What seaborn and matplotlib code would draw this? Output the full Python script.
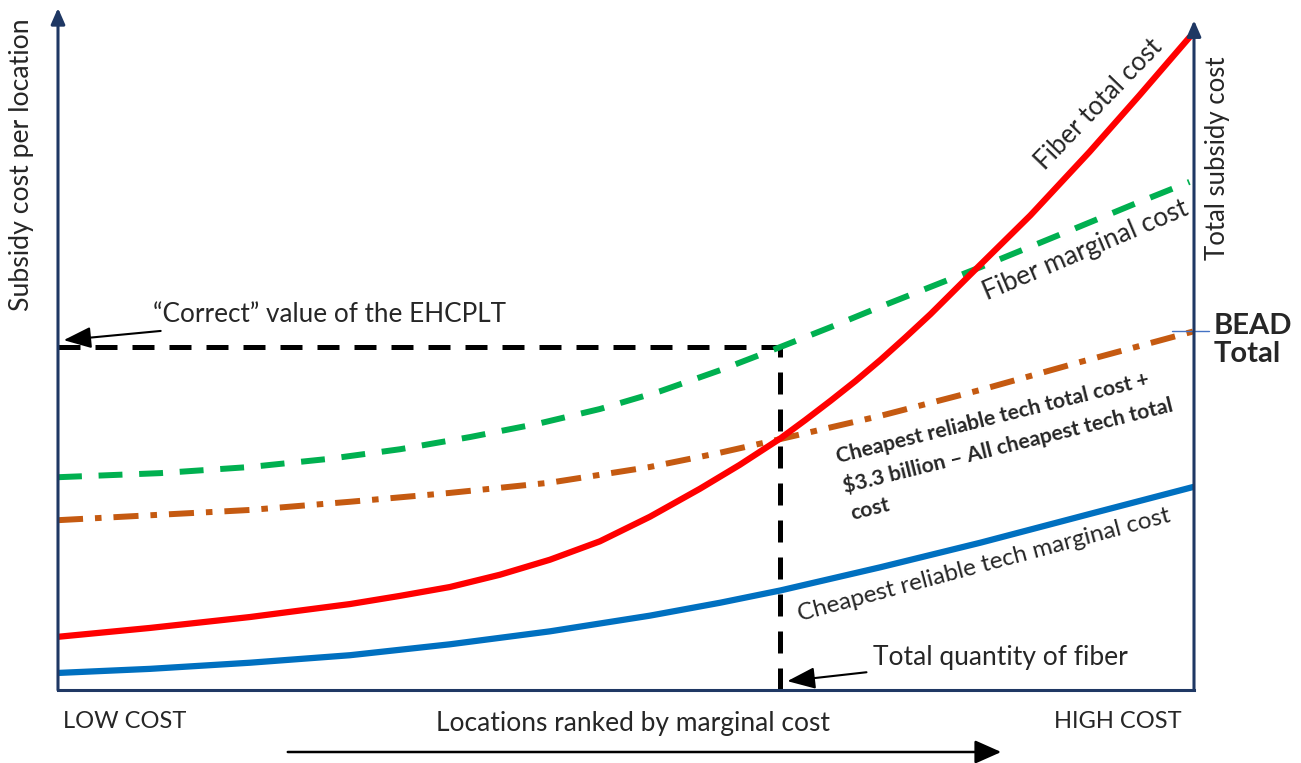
import numpy as np
import pandas as pd
import matplotlib
matplotlib.use("Agg")
import matplotlib.pyplot as plt
import seaborn as sns

# values (x = location rank 0-100, y = cost 0-100)
fiber_total_x = [0, 8.1, 16.9, 25.7, 30.1, 34.5, 38.9, 43.3, 47.7, 52.1, 56.5, 60.0,
                 63.6, 65.8, 68.0, 70.2, 72.4, 74.6, 76.8, 80.3, 85.6, 90.8, 95.2, 99.6]
fiber_total = [7.8, 9.1, 10.7, 12.6, 13.8, 15.1, 16.9, 19.1, 21.8, 25.4, 29.5, 33.0,
               36.9, 39.6, 42.4, 45.3, 48.4, 51.7, 55.1, 60.9, 69.6, 78.9, 87.2, 95.7]

fiber_marginal_x = [0, 9.0, 16.9, 23.9, 30.1, 36.3, 42.4, 47.7, 53.0, 58.3, 63.6,
                    68.0, 72.4, 76.8, 81.2, 85.6, 90.0, 94.8, 99.6]
fiber_marginal = [31.2, 31.8, 32.7, 33.9, 35.3, 37.1, 39.1, 41.2, 43.8, 46.9, 50.3,
                  53.2, 56.2, 59.1, 62.0, 65.0, 68.0, 71.3, 74.5]

cheap_total_x = [0, 9.0, 16.9, 25.7, 34.5, 43.3, 52.1, 58.3, 63.6, 72.4, 81.2, 90.0, 100]
cheap_total = [24.9, 25.7, 26.4, 27.6, 28.9, 30.4, 32.7, 34.8, 36.8, 40.2, 44.0, 48.1, 52.6]

cheap_marginal_x = [0, 8.1, 16.9, 25.7, 34.5, 43.3, 52.1, 58.3, 63.6, 72.4, 81.2, 90.8, 100]
cheap_marginal = [2.5, 3.1, 4.0, 5.1, 6.7, 8.6, 10.9, 12.8, 14.6, 18.0, 21.6, 25.8, 29.8]

fiber_quantity = 63.6   # "Total quantity of fiber"
ehcplt_value = 50.3     # "Correct" value of the EHCPLT
bead_total = 52.6

navy = "#1F3864"

sns.set_theme(style="white")
plt.rcParams['font.family'] = ['Lato', 'DejaVu Sans']

fig = plt.figure(figsize=(13.01, 7.63), dpi=100)
ax = fig.add_axes([58/1301, 1-690/763, (1194-58)/1301, (690-8)/763])
ax.set_xlim(0, 100)
ax.set_ylim(0, 100)
ax.set_xticks([])
ax.set_yticks([])
for s in ["top", "right", "left"]:
    ax.spines[s].set_visible(False)
ax.spines["bottom"].set_color(navy)
ax.spines["bottom"].set_linewidth(2.2)

# axis arrows
ax.annotate("", xy=(0, 100), xytext=(0, 0),
            arrowprops=dict(arrowstyle="-|>,head_length=0.8,head_width=0.35",
                            color=navy, lw=2.2, shrinkA=0, shrinkB=0),
            annotation_clip=False)
ax.annotate("", xy=(100, 98.2), xytext=(100, 0),
            arrowprops=dict(arrowstyle="-|>,head_length=0.8,head_width=0.35",
                            color=navy, lw=2.2, shrinkA=0, shrinkB=0),
            annotation_clip=False)

# guide lines
sns.lineplot(x=[0, fiber_quantity], y=[ehcplt_value, ehcplt_value], ax=ax,
             color="black", linewidth=3.6, linestyle=(0, (4.4, 3)))
sns.lineplot(x=[fiber_quantity, fiber_quantity], y=[0, ehcplt_value], ax=ax,
             color="black", linewidth=3.6, linestyle=(0, (4.4, 3)),
             orient="y")

# curves
kw = dict(ax=ax, solid_joinstyle="round", dash_joinstyle="round")
sns.lineplot(x=cheap_marginal_x, y=cheap_marginal, color="#0070C0", linewidth=4.5, **kw)
sns.lineplot(x=cheap_total_x, y=cheap_total, color="#C55A11", linewidth=4.3,
             linestyle=(0, (4.2, 2, 1.1, 2)), **kw)
sns.lineplot(x=fiber_marginal_x, y=fiber_marginal, color="#00B050", linewidth=4.3,
             linestyle=(0, (4, 2.8)), **kw)
sns.lineplot(x=fiber_total_x, y=fiber_total, color="#FF0000", linewidth=4.5, **kw)

# curve labels
ax.text(91.6, 85.9, "Fiber total cost", rotation=46, fontsize=18.5,
        ha="center", va="center", rotation_mode="anchor")
ax.text(90.5, 64.5, "Fiber marginal cost", rotation=23, fontsize=19,
        ha="center", va="center", rotation_mode="anchor")
ax.text(81.5, 18.3, "Cheapest reliable tech marginal cost", rotation=15, fontsize=17.5,
        ha="center", va="center", rotation_mode="anchor")
ax.text(68.3, 35.6,
        "Cheapest reliable tech total cost +\n$3.3 billion \u2013 All cheapest tech total\ncost",
        rotation=14, fontsize=15.3, fontweight="bold", ha="left", va="top",
        rotation_mode="anchor", multialignment="left", linespacing=1.5)

# annotations with arrows
ax.annotate("\u201cCorrect\u201d value of the EHCPLT", xy=(0.5, 51.3), xytext=(8.4, 55.0),
            fontsize=18.8, va="center", ha="left",
            arrowprops=dict(arrowstyle="-|>,head_length=0.9,head_width=0.35",
                            color="black", lw=1.5, shrinkA=2, shrinkB=0))
ax.annotate("Total quantity of fiber", xy=(64.2, 1.3), xytext=(71.7, 4.8),
            fontsize=19, va="center", ha="left",
            arrowprops=dict(arrowstyle="-|>,head_length=0.9,head_width=0.35",
                            color="black", lw=1.5, shrinkA=2, shrinkB=0))

# BEAD total marker
ax.plot([98.1, 101.3], [bead_total, bead_total], color="#4472C4",
        lw=1, clip_on=False)
fig.text(1214/1301, 1-340/763, "BEAD\nTotal", fontsize=21, fontweight="bold",
         ha="left", va="center", linespacing=1.1)

# axis titles
fig.text(22/1301, 1-165/763, "Subsidy cost per location", rotation=90, fontsize=19.2,
         ha="center", va="center")
fig.text(1218/1301, 1-158/763, "Total subsidy cost", rotation=90, fontsize=18.5,
         ha="center", va="center")
fig.text(63/1301, 1-722/763, "LOW COST", fontsize=17, ha="left", va="center")
fig.text(1182/1301, 1-722/763, "HIGH COST", fontsize=17, ha="right", va="center")
fig.text(633/1301, 1-724/763, "Locations ranked by marginal cost", fontsize=19,
         ha="center", va="center")
fig.add_artist(matplotlib.patches.FancyArrowPatch(
    (285/1301, 1-752/763), (1004/1301, 1-752/763), transform=fig.transFigure,
    arrowstyle="-|>,head_length=0.9,head_width=0.4", color="black", lw=1.8,
    mutation_scale=18))

fig.savefig("out.png", dpi=100)
